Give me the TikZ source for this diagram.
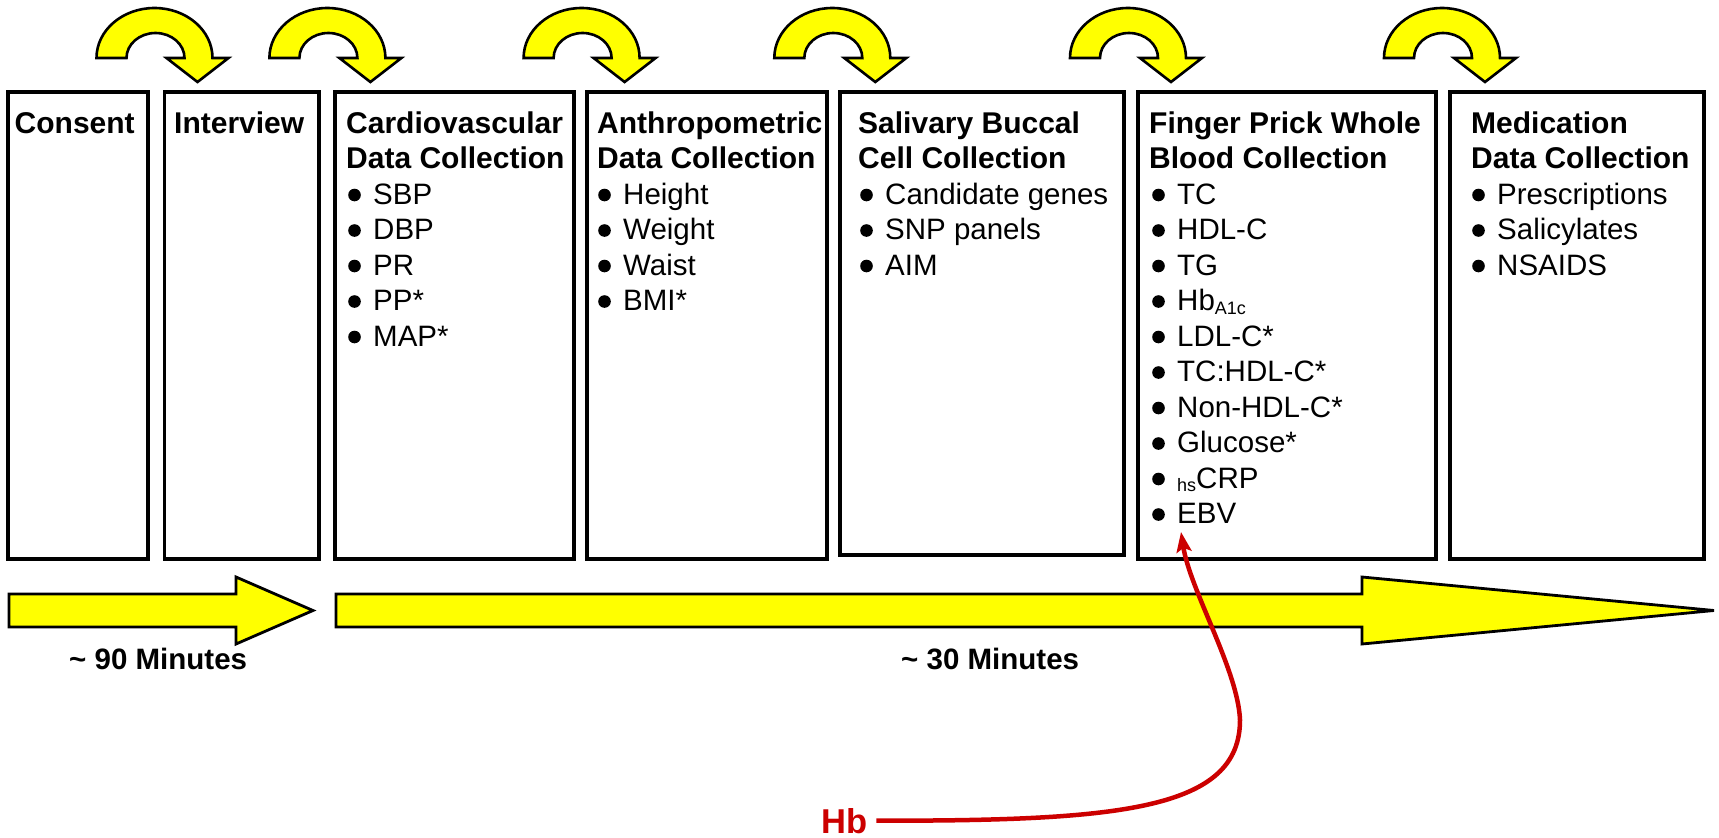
\documentclass[tikz,border=0pt]{standalone}
\usepackage{fontspec}
\setmainfont{Liberation Sans}
\usetikzlibrary{arrows.meta}
\definecolor{flowyellow}{RGB}{255,255,0}
\definecolor{hbred}{RGB}{204,0,0}

% one bulleted entry: name, x, baseline y, text
\newcommand\bulletitem[4]{%
  \node[item] (#1) at (#2,#3) {#4};
  \fill ([xshift=-18.5pt,yshift=9pt]#1.base west) circle[radius=6.3];}

% curved hand-over arrow ending on top of a stage box
\newcommand\turnarrow[2]{%
  \begin{scope}[shift={(#1.north west)}, xshift=#2]
    \draw[turn] (-101,-34) arc[start angle=180, end angle=360, x radius=58, y radius=50]
      -- (31,-34) -- (0,-10) -- (-31,-34) -- (-13,-34)
      arc[start angle=360, end angle=180, x radius=29, y radius=25] -- cycle;
  \end{scope}}

\begin{document}
\begin{tikzpicture}[x=1pt,y=-1pt,
  stage/.style={draw=black, line width=3.2pt, inner sep=0pt, outer sep=0pt, anchor=north west},
  title/.style={anchor=base west, inner sep=0pt, font=\fontsize{30}{36}\selectfont\bfseries},
  item/.style={anchor=base west, inner sep=0pt, font=\fontsize{29.5}{36}\selectfont},
  turn/.style={fill=flowyellow, draw=black, line width=2.6pt, line join=miter},
  timebar/.style={fill=flowyellow, draw=black, line width=2.8pt, line join=miter},
  duration/.style={anchor=base west, inner sep=0pt, font=\fontsize{29.5}{36}\selectfont\bfseries},
  sub/.style={}]

\fill[white] (0,0) rectangle (1719,838);
\useasboundingbox (0,0) rectangle (1719,838);

% stage boxes
\node[stage, minimum width=140pt,   minimum height=467pt] (consent)    at (8,92) {};
\node[stage, minimum width=154.5pt, minimum height=467pt] (interview)  at (164.5,92) {};
\node[stage, minimum width=239pt,   minimum height=467pt] (cardio)     at (335,92) {};
\node[stage, minimum width=240pt,   minimum height=467pt] (anthro)     at (587,92) {};
\node[stage, minimum width=284pt,   minimum height=463pt] (salivary)   at (840,92) {};
\node[stage, minimum width=298pt,   minimum height=467pt] (finger)     at (1138,92) {};
\node[stage, minimum width=254pt,   minimum height=467pt] (medication) at (1450,92) {};

% hand-over arrows between stages
\turnarrow{interview}{33}
\turnarrow{cardio}{35.4}
\turnarrow{anthro}{37.6}
\turnarrow{salivary}{35.3}
\turnarrow{finger}{33}
\turnarrow{medication}{35}

% titles
\node[title] (t-consent)   at (14.5,133) {Consent};
\node[title] (t-interview) at (174,133) {Interview};
\node[title] (t-cv1) at (346,133)   {Cardiovascular};
\node[title] (t-cv2) at (346,168.5) {Data Collection};
\node[title] (t-an1) at (597,133)   {Anthropometric};
\node[title] (t-an2) at (597,168.5) {Data Collection};
\node[title] (t-sa1) at (858,133)   {Salivary Buccal};
\node[title] (t-sa2) at (858,168.5) {Cell Collection};
\node[title] (t-fp1) at (1149,133)   {Finger Prick Whole};
\node[title] (t-fp2) at (1149,168.5) {Blood Collection};
\node[title] (t-me1) at (1471,133)   {Medication};
\node[title] (t-me2) at (1471,168.5) {Data Collection};

% cardiovascular measures
\bulletitem{cv1}{373}{204}{SBP}
\bulletitem{cv2}{373}{239.5}{DBP}
\bulletitem{cv3}{373}{275}{PR}
\bulletitem{cv4}{373}{310.5}{PP*}
\bulletitem{cv5}{373}{346}{MAP*}

% anthropometric measures
\bulletitem{an1}{623}{204}{Height}
\bulletitem{an2}{623}{239.5}{Weight}
\bulletitem{an3}{623}{275}{Waist}
\bulletitem{an4}{623}{310.5}{BMI*}

% buccal cell assays
\bulletitem{sa1}{885}{204}{Candidate genes}
\bulletitem{sa2}{885}{239.5}{SNP panels}
\bulletitem{sa3}{885}{275}{AIM}

% whole blood assays
\bulletitem{fp1}{1177}{204}{TC}
\bulletitem{fp2}{1177}{239.5}{HDL-C}
\bulletitem{fp3}{1177}{275}{TG}
\bulletitem{fp4}{1177}{310.5}{Hb\raisebox{-4pt}{\fontsize{18}{18}\selectfont A1c}}
\bulletitem{fp5}{1177}{346}{LDL-C*}
\bulletitem{fp6}{1177}{381.5}{TC:HDL-C*}
\bulletitem{fp7}{1177}{417}{Non-HDL-C*}
\bulletitem{fp8}{1177}{452.5}{Glucose*}
\bulletitem{fp9}{1177}{488}{\raisebox{-3pt}{\fontsize{18}{18}\selectfont hs}CRP}
\bulletitem{fp10}{1177}{523.5}{EBV}

% medication records
\bulletitem{me1}{1497}{204}{Prescriptions}
\bulletitem{me2}{1497}{239.5}{Salicylates}
\bulletitem{me3}{1497}{275}{NSAIDS}

% time bars
\draw[timebar] (9,594) -- (236,594) -- (236,577) -- (313,610.5) -- (236,644)
  -- (236,627) -- (9,627) -- cycle;
\draw[timebar] (336,594) -- (1362,594) -- (1362,577) -- (1714,610.5) -- (1362,644)
  -- (1362,627) -- (336,627) -- cycle;
\node[duration] (d90) at (69,669)  {\textasciitilde{} 90 Minutes};
\node[duration] (d30) at (901,669) {\textasciitilde{} 30 Minutes};

% haemoglobin annotation
\node[anchor=base west, inner sep=0pt, text=hbred,
      font=\fontsize{34.5}{40}\selectfont\bfseries] (hb) at (821,833) {Hb};
\coordinate (hbtip) at (1181,532);
\draw[hbred, line width=4.5pt, -{Stealth[length=20pt, width=15pt, inset=4pt]}]
  ([xshift=9pt]hb.east) .. controls (1120,821) and (1240,810) .. (1240,720)
  .. controls (1238,670) and (1190,590) .. (hbtip);

\end{tikzpicture}
\end{document}
